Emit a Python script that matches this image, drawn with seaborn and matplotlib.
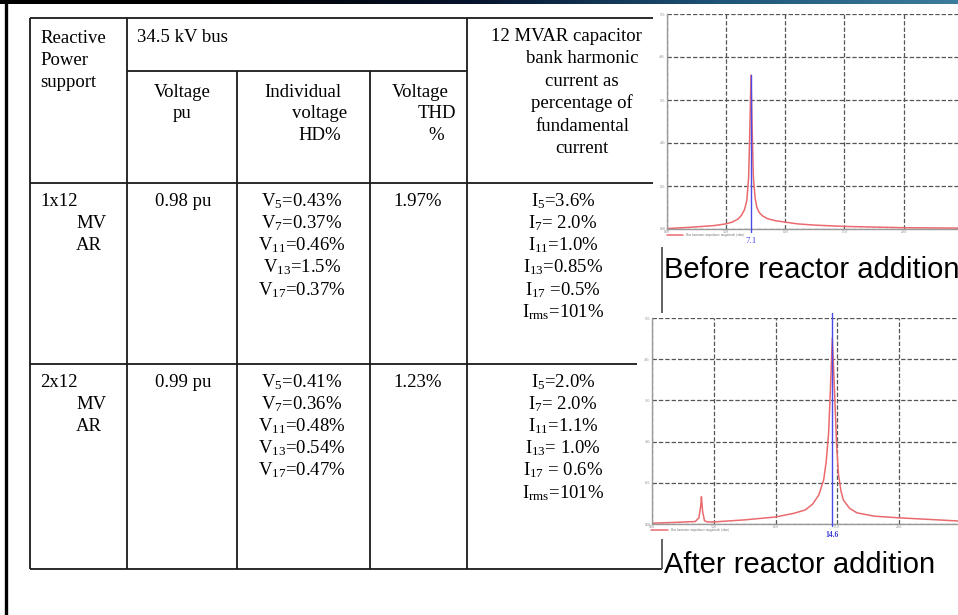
import numpy as np
import matplotlib
matplotlib.use('Agg')
import matplotlib.pyplot as plt
import seaborn as sns
from matplotlib.colors import LinearSegmentedColormap

# table contents
header_support = ['Reactive', 'Power', 'support']
header_bus = '34.5 kV bus'
header_cap = ['12 MVAR capacitor', 'bank harmonic', 'current as',
              'percentage of', 'fundamental', 'current']
support_labels = [['1x12', 'MV', 'AR'], ['2x12', 'MV', 'AR']]
voltage_pu = ['0.98 pu', '0.99 pu']
voltage_thd = ['1.97%', '1.23%']
voltage_hd = [
    [r'V$_5$=0.43%', r'V$_7$=0.37%', r'V$_{11}$=0.46%', r'V$_{13}$=1.5%', r'V$_{17}$=0.37%'],
    [r'V$_5$=0.41%', r'V$_7$=0.36%', r'V$_{11}$=0.48%', r'V$_{13}$=0.54%', r'V$_{17}$=0.47%'],
]
current_hd = [
    [r'I$_5$=3.6%', r'I$_7$= 2.0%', r'I$_{11}$=1.0%', r'I$_{13}$=0.85%', r'I$_{17}$ =0.5%', r'I$_{rms}$=101%'],
    [r'I$_5$=2.0%', r'I$_7$= 2.0%', r'I$_{11}$=1.1%', r'I$_{13}$= 1.0%', r'I$_{17}$ = 0.6%', r'I$_{rms}$=101%'],
]

# frequency scans (harmonic order vs impedance)
before_h = [0, 2, 4, 5, 5.5, 6, 6.3, 6.55, 6.75, 6.9, 7.0, 7.1, 7.2, 7.3, 7.45, 7.6, 7.8,
            8.1, 8.5, 9.2, 10, 11, 12.5, 15, 20, 25, 30]
before_z = [1, 4, 8, 12, 16, 23, 32, 45, 67, 120, 230, 358, 230, 120, 72, 50, 38,
            30, 24, 19, 16, 12, 9, 6, 3, 2, 1]
after_h = [0, 2, 3.5, 3.8, 3.95, 4.0, 4.1, 4.25, 4.5, 5, 7.5, 10, 11.5, 12.4, 13.0, 13.5,
           13.9, 14.1, 14.3, 14.45, 14.6, 14.7, 14.8, 14.95, 15.1, 15.3, 15.5, 16.0, 16.6,
           18, 20, 25, 30]
after_z = [2, 4, 6, 15, 45, 66, 30, 8, 5, 5, 10, 17, 26, 34, 48, 70,
           107, 150, 220, 330, 451, 380, 308, 190, 120, 80, 58, 38, 27,
           19, 15, 7, 5]
resonance_before = 7.1
resonance_after = 14.6
x_ticks = [0, 5, 10, 15, 20]
x_tick_labels = ['0.00', '5.00', '10.0', '15.0', '20.0']
y_ticks = [0, 100, 200, 300, 400, 500]
y_tick_labels = ['0.00', '100.', '200.', '300.', '400.', '500.']

sns.set_style('white')
plt.rcParams['font.family'] = ['Liberation Serif', 'DejaVu Serif']
plt.rcParams['text.color'] = 'black'
plt.rcParams['mathtext.fontset'] = 'custom'
plt.rcParams['mathtext.rm'] = 'Liberation Serif'
plt.rcParams['mathtext.it'] = 'Liberation Serif'
plt.rcParams['mathtext.default'] = 'regular'

W, H = 958, 615
fig = plt.figure(figsize=(W / 100, H / 100), dpi=100)
fig.patch.set_facecolor('white')

base = fig.add_axes([0, 0, 1, 1])
base.set_xlim(0, W)
base.set_ylim(H, 0)
base.axis('off')

# dark title band and slide frame
cmap = LinearSegmentedColormap.from_list('band', ['#000000', '#000000', '#06142e', '#1d5478', '#3c7c9c'])
band = np.linspace(0, 1, 256).reshape(1, -1)
base.imshow(band, cmap=cmap, extent=[0, W, 4, 0], aspect='auto', zorder=1)
base.plot([6.5, 6.5], [0, H], color='black', lw=2.4, zorder=2, solid_capstyle='butt')

# table grid
lc, lw = '#1a1a1a', 1.3
for x0, x1, y in [(30, 653, 18), (127, 467, 71), (30, 653, 183), (30, 637, 364), (30, 662, 569)]:
    base.plot([x0, x1], [y, y], color=lc, lw=lw, solid_capstyle='butt')
for x, y0, y1 in [(30, 18, 569), (127, 18, 569), (237, 71, 569), (370, 71, 569), (467, 18, 569),
                  (662, 539, 569), (662, 247, 313)]:
    base.plot([x, x], [y0, y1], color=lc if x < 600 else '#555555', lw=lw, solid_capstyle='butt')

fs = 13.5
step = 22.2
for i, s in enumerate(header_support):
    base.text(40, 43 + i * step, s, fontsize=fs, ha='left', va='baseline')
base.text(137, 42, header_bus, fontsize=fs, ha='left', va='baseline')
for i, (s, cx) in enumerate(zip(['Voltage', 'pu'], [182, 182])):
    base.text(cx, 97 + i * 21.5, s, fontsize=fs, ha='center', va='baseline')
for i, (s, cx) in enumerate(zip(['Individual', 'voltage', 'HD%'], [303, 320, 320])):
    base.text(cx, 97 + i * 21.5, s, fontsize=fs, ha='center', va='baseline')
for i, (s, cx) in enumerate(zip(['Voltage', 'THD', '%'], [420, 437, 436])):
    base.text(cx, 97 + i * 21.5, s, fontsize=fs, ha='center', va='baseline')
for i, s in enumerate(header_cap):
    base.text(566 if i == 0 else 582, 41 + i * 22.4, s, fontsize=fs, ha='center', va='baseline')

for r, y0 in enumerate([206, 387]):
    lab = support_labels[r]
    base.text(40, y0, lab[0], fontsize=fs, ha='left', va='baseline')
    base.text(76, y0 + step, lab[1], fontsize=fs, ha='left', va='baseline')
    base.text(76, y0 + 2 * step, lab[2], fontsize=fs, ha='left', va='baseline')
    base.text(183, y0, voltage_pu[r], fontsize=fs, ha='center', va='baseline')
    base.text(418, y0, voltage_thd[r], fontsize=fs, ha='center', va='baseline')
    for i, s in enumerate(voltage_hd[r]):
        base.text(302, y0 + i * step, s, fontsize=fs, ha='center', va='baseline')
    for i, s in enumerate(current_hd[r]):
        base.text(563, y0 + i * step, s, fontsize=fs, ha='center', va='baseline')

# captions
for txt, y in [('Before reactor addition', 278), ('After reactor addition', 573)]:
    base.text(664, y, txt, fontsize=21, family=['Liberation Sans', 'DejaVu Sans'],
              ha='left', va='baseline', color='black')


def scan_axes(left, bottom, px_per_h, height, h, z, leg_text):
    xmax = 30
    ax = fig.add_axes([left / W, 1 - bottom / H, xmax * px_per_h / W, height / H])
    ax.set_facecolor('white')
    sns.lineplot(x=h, y=z, ax=ax, color='#ea6a6e', lw=1.1, estimator=None, sort=False,
                 label=leg_text)
    ax.set_xlim(0, xmax)
    ax.set_ylim(0, 500)
    ax.set_xticks(x_ticks + [25])
    ax.set_xticklabels(x_tick_labels + [''])
    ax.set_yticks(y_ticks)
    ax.set_yticklabels(y_tick_labels)
    ax.set_xticks(np.arange(0, xmax, 2.5), minor=True)
    ax.tick_params(labelsize=2.6, labelcolor='#888888', length=1.5, width=0.6, color='#999999',
                   pad=1, direction='in')
    ax.tick_params(which='minor', length=1.2, width=0.5, color='#999999', direction='in')
    ax.grid(True, color='#555555', lw=0.9, ls=(0, (3.5, 1.6)))
    for s in ['top', 'right']:
        ax.spines[s].set_visible(False)
    for s in ['left', 'bottom']:
        ax.spines[s].set_color('#999999')
        ax.spines[s].set_linewidth(1.0)
    ax.set_xlabel('')
    ax.set_ylabel('')
    ax.legend(loc='upper left', bbox_to_anchor=(-0.005, -0.012), frameon=False, fontsize=2.4,
              handlelength=5, borderaxespad=0, labelcolor='#777777')
    return ax


ax1 = scan_axes(667, 229, 11.83, 215, before_h, before_z,
                'Bus harmonic impedance magnitude (ohm)')
ax1.plot([resonance_before, resonance_before], [-7, max(before_z)], color='#4a4ae8', lw=1.0,
         clip_on=False, zorder=5)
ax1.annotate(f'{resonance_before}', xy=(resonance_before, 0), xytext=(0, -6), textcoords='offset points',
             ha='center', va='top', fontsize=6.5, color='#4a4ae8', annotation_clip=False)

ax2 = scan_axes(652, 524, 12.35, 206, after_h, after_z,
                'Bus harmonic impedance magnitude (ohm)')
ax2.plot([resonance_after, resonance_after], [-4, 512], color='#4a4ae8', lw=1.0,
         clip_on=False, zorder=5)
ax2.annotate(f'{resonance_after}', xy=(resonance_after, 0), xytext=(0, -5), textcoords='offset points',
             ha='center', va='top', fontsize=5.5, color='#3a3ad8', annotation_clip=False,
             fontweight='bold')

fig.savefig('out.png', dpi=100)
